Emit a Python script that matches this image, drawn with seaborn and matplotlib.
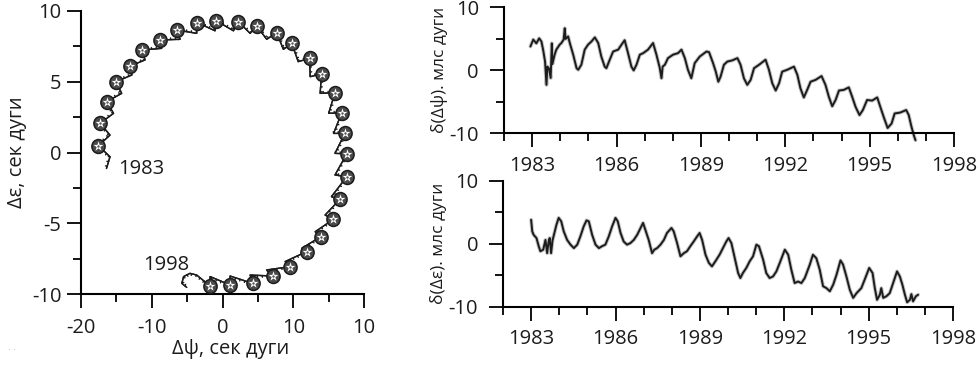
import matplotlib
matplotlib.use("Agg")
import matplotlib.pyplot as plt
import matplotlib.patheffects as pe
from matplotlib.markers import MarkerStyle
from matplotlib.transforms import Affine2D
from matplotlib.ticker import MultipleLocator
import pandas as pd
import seaborn as sns

# --- left panel: nutation path (Δψ, Δε), arc-seconds ---
# centres of the semi-annual loops, 1983 -> 1998
loop_x = [-17.55, -17.3, -16.37, -15.05, -13.07, -11.4, -8.83, -6.47, -3.55, -0.91,
          2.24, 4.83, 7.66, 9.8, 12.3, 14.0, 15.9, 16.85, 17.3, 17.56,
          17.56, 16.6, 15.67, 13.9, 11.9, 9.55, 7.1, 4.27, 1.07, -1.76]
loop_y = [0.48, 2.06, 3.59, 5.0, 6.11, 7.24, 7.95, 8.66, 9.18, 9.32,
          9.25, 8.94, 8.47, 7.71, 6.65, 5.55, 4.23, 2.8, 1.35, -0.1,
          -1.71, -3.31, -4.72, -5.95, -7.0, -8.07, -8.73, -9.25, -9.36, -9.43]
# inner track between consecutive loops
gap_x = [-15.9, -15.4, -14.25, -12.8, -10.95, -8.6, -6.0, -3.65, -1.05, 1.55,
         3.9, 6.25, 8.6, 10.7, 12.4, 13.8, 15.0, 15.7, 15.9, 15.9,
         15.4, 14.5, 13.1, 11.2, 8.85, 6.25, 3.9, 1.07, -1.76]
gap_y = [1.23, 2.77, 4.18, 5.48, 6.54, 7.36, 8.0, 8.42, 8.6, 8.6,
         8.42, 8.0, 7.29, 6.42, 5.36, 4.18, 2.77, 1.35, -0.06, -1.59,
         -3.12, -4.42, -5.6, -6.77, -7.71, -8.3, -8.66, -8.73, -8.77]
head_x = [-16.4, -15.9]
head_y = [-1.13, -0.3]
tail_x = [-3.65, -4.6, -5.5, -5.75, -5.06]
tail_y = [-8.66, -8.54, -8.77, -9.25, -9.53]

# --- right panels: residuals, mas ---
psi_t = [1982.94, 1983.04, 1983.15, 1983.25, 1983.33, 1983.39, 1983.46, 1983.51, 1983.54, 1983.60,
         1983.66, 1983.70, 1983.72, 1983.80, 1983.86, 1983.98, 1984.04, 1984.12, 1984.16, 1984.19,
         1984.28, 1984.34, 1984.46, 1984.58, 1984.64, 1984.75, 1984.87, 1984.99, 1985.11, 1985.23,
         1985.35, 1985.46, 1985.58, 1985.64, 1985.76, 1985.88, 1986.06, 1986.18, 1986.29, 1986.41,
         1986.53, 1986.61, 1986.71, 1986.83, 1986.95, 1987.12, 1987.30, 1987.42, 1987.54, 1987.60,
         1987.64, 1987.72, 1987.83, 1988.01, 1988.19, 1988.31, 1988.43, 1988.54, 1988.66, 1988.78,
         1988.96, 1989.20, 1989.29, 1989.43, 1989.53, 1989.62, 1989.70, 1989.82, 1989.94, 1990.12,
         1990.30, 1990.41, 1990.53, 1990.65, 1990.77, 1990.89, 1991.07, 1991.30, 1991.42, 1991.54,
         1991.66, 1991.78, 1991.89, 1992.07, 1992.31, 1992.43, 1992.54, 1992.66, 1992.78, 1992.90,
         1993.08, 1993.29, 1993.43, 1993.55, 1993.67, 1993.79, 1993.91, 1994.08, 1994.26, 1994.38,
         1994.50, 1994.64, 1994.76, 1994.91, 1995.09, 1995.27, 1995.38, 1995.50, 1995.64, 1995.78,
         1995.89, 1996.09, 1996.30, 1996.39, 1996.49, 1996.57, 1996.63]
psi_v = [3.8, 4.9, 4.3, 5.1, 4.6, 3.3, 1.4, -2.3, 0.6, 0.3,
         -1.2, 4.3, 1.0, 2.5, 3.3, 4.1, 4.35, 4.9, 6.7, 5.0,
         5.4, 4.35, 2.5, 0.35, 0.1, 0.9, 3.3, 4.1, 4.6, 5.25,
         4.35, 2.2, 0.6, 0.35, 1.7, 3.0, 3.3, 4.1, 4.8, 2.75,
         0.6, 0.0, 0.9, 2.5, 2.75, 3.3, 4.35, 2.5, 0.35, -1.25,
         0.6, 0.9, 1.95, 2.5, 2.75, 3.3, 1.95, 0.1, -1.25, 1.15,
         2.2, 3.0, 2.9, 1.2, -0.2, -1.8, -1.0, 0.9, 1.4, 1.6,
         1.95, 0.9, -1.25, -2.3, -1.5, 0.35, 0.9, 1.7, 0.1, -2.05,
         -3.2, -2.05, -0.2, 0.1, 0.6, -0.7, -2.85, -4.3, -3.1, -1.8,
         -1.5, -0.9, -2.3, -4.2, -5.7, -4.7, -3.2, -3.1, -2.7, -4.2,
         -5.8, -7.1, -6.3, -4.7, -4.8, -4.3, -5.8, -7.4, -9.15, -8.45,
         -6.85, -6.7, -6.3, -7.1, -9.0, -10.3, -11.1]

eps_t = [1983.00, 1983.04, 1983.09, 1983.19, 1983.27, 1983.33, 1983.43, 1983.51, 1983.57, 1983.62,
         1983.66, 1983.71, 1983.76, 1983.81, 1983.90, 1983.98, 1984.07, 1984.16, 1984.28, 1984.40,
         1984.52, 1984.64, 1984.75, 1984.87, 1984.97, 1985.05, 1985.17, 1985.29, 1985.41, 1985.52,
         1985.64, 1985.76, 1985.88, 1986.00, 1986.08, 1986.18, 1986.29, 1986.41, 1986.53, 1986.65,
         1986.77, 1986.89, 1986.98, 1987.06, 1987.18, 1987.30, 1987.38, 1987.48, 1987.60, 1987.72,
         1987.83, 1987.99, 1988.07, 1988.19, 1988.31, 1988.43, 1988.54, 1988.66, 1988.78, 1988.90,
         1988.99, 1989.08, 1989.20, 1989.32, 1989.43, 1989.55, 1989.70, 1989.82, 1989.94, 1990.02,
         1990.12, 1990.24, 1990.36, 1990.44, 1990.53, 1990.65, 1990.77, 1990.89, 1991.01, 1991.10,
         1991.25, 1991.36, 1991.48, 1991.60, 1991.72, 1991.84, 1992.02, 1992.14, 1992.25, 1992.37,
         1992.49, 1992.61, 1992.73, 1992.91, 1993.02, 1993.14, 1993.26, 1993.38, 1993.50, 1993.62,
         1993.74, 1993.86, 1994.00, 1994.09, 1994.21, 1994.33, 1994.45, 1994.57, 1994.74, 1994.86,
         1995.02, 1995.14, 1995.22, 1995.30, 1995.40, 1995.45, 1995.52, 1995.63, 1995.75, 1995.87,
         1996.01, 1996.11, 1996.20, 1996.29, 1996.37, 1996.47, 1996.52, 1996.58, 1996.68, 1996.76]
eps_v = [3.8, 1.95, 1.4, 0.9, -0.4, -1.2, -0.95, 0.6, -1.5, 0.3,
         0.9, -1.5, 0.5, 1.4, 3.0, 4.1, 3.55, 1.95, 0.6, -0.15,
         -0.7, -0.15, 1.15, 2.75, 3.7, 3.55, 1.4, -0.15, -0.7, -0.4,
         -0.15, 1.15, 2.75, 4.1, 3.55, 1.7, 0.35, -0.15, 0.1, 0.6,
         1.4, 2.5, 3.3, 2.2, 0.6, -1.5, -0.95, -0.7, -0.15, 0.6,
         1.7, 2.5, 1.95, 0.1, -2.0, -1.5, -1.2, -0.4, 0.35, 1.15,
         1.7, 0.6, -1.75, -3.05, -3.6, -2.8, -1.75, -0.7, 0.35, 0.9,
         0.1, -2.3, -4.65, -5.45, -4.65, -3.85, -2.8, -2.0, -0.15, -0.4,
         -2.55, -4.65, -5.45, -5.2, -4.4, -3.05, -0.95, -1.75, -4.1, -6.25,
         -6.0, -6.25, -5.45, -3.3, -1.75, -2.3, -4.1, -6.75, -7.05, -7.55,
         -6.5, -4.9, -2.65, -3.3, -5.2, -7.3, -8.6, -7.85, -7.05, -5.7,
         -3.85, -4.65, -7.05, -8.9, -8.1, -7.05, -8.6, -8.35, -7.85, -6.25,
         -4.4, -5.2, -6.5, -8.1, -9.3, -8.9, -8.0, -9.15, -8.35, -8.1]

year_ticks = [1983, 1986, 1989, 1992, 1995, 1998]
nut_xticks = [-20, -10, 0, 10, 20]
nut_xlabels = ["-20", "-10", "0", "10", "10"]

sns.set_theme(style="ticks")
plt.rcParams['font.family'] = ['Open Sans', 'DejaVu Sans']
plt.rcParams['axes.unicode_minus'] = False

INK = "#1c1c1c"
FS = 14.5

fig = plt.figure(figsize=(9.77, 3.7), dpi=100)
ax_nut = fig.add_axes([81 / 977, 1 - 294 / 370, 283 / 977, 283 / 370])
ax_psi = fig.add_axes([504 / 977, 1 - 133.3 / 370, 450 / 977, 125.8 / 370])
ax_eps = fig.add_axes([503 / 977, 1 - 306.7 / 370, 450 / 977, 126 / 370])


def style_axes(ax, xpad, ypad):
    sns.despine(ax=ax)
    for s in ("left", "bottom"):
        ax.spines[s].set_linewidth(1.5)
        ax.spines[s].set_color("black")
    ax.tick_params(which="major", direction="out", length=10, width=1.3,
                   color="black", labelsize=FS, labelcolor=INK)
    ax.tick_params(which="minor", direction="out", length=5.5, width=1.3, color="black")
    ax.tick_params(axis="x", which="major", pad=xpad)
    ax.tick_params(axis="y", which="major", pad=ypad)
    ax.set_facecolor("white")


# nutation path: head, then loop / gap alternately, then the 1998 curl
path_x, path_y = list(head_x), list(head_y)
for i in range(len(loop_x)):
    path_x.append(loop_x[i])
    path_y.append(loop_y[i])
    if i < len(gap_x):
        path_x.append(gap_x[i])
        path_y.append(gap_y[i])
path_x += tail_x
path_y += tail_y
df_path = pd.DataFrame({"dpsi": path_x, "deps": path_y})

sns.lineplot(data=df_path, x="dpsi", y="deps", sort=False, estimator=None,
             color=INK, lw=1.0, ax=ax_nut)
ax_nut.lines[-1].set_path_effects([pe.withTickedStroke(spacing=3.5, angle=100, length=0.35),
                                   pe.Normal()])

oval = MarkerStyle("o", transform=Affine2D().scale(0.95, 1.0))
df_loops = pd.DataFrame({"dpsi": loop_x, "deps": loop_y})
sns.scatterplot(data=df_loops, x="dpsi", y="deps", marker=oval, s=100,
                color="#4a4a4a", edgecolor=INK, linewidth=1.1, ax=ax_nut, zorder=3)
sns.scatterplot(data=df_loops, x="dpsi", y="deps", marker="*", s=55,
                color="white", linewidth=0, ax=ax_nut, zorder=4)
sns.scatterplot(data=df_loops, x="dpsi", y="deps", marker="o", s=3,
                color="#555555", linewidth=0, ax=ax_nut, zorder=5)

ax_nut.set_xlim(-20, 20)
ax_nut.set_ylim(-10, 10)
ax_nut.set_xticks(nut_xticks)
ax_nut.set_xticklabels(nut_xlabels)
ax_nut.set_yticks([-10, -5, 0, 5, 10])
ax_nut.xaxis.set_minor_locator(MultipleLocator(5))
ax_nut.yaxis.set_minor_locator(MultipleLocator(2.5))
style_axes(ax_nut, xpad=7, ypad=4)
ax_nut.set_xlabel("Δψ, сек дуги", fontsize=FS, color=INK)
ax_nut.set_ylabel("Δε, сек дуги", fontsize=FS, color=INK)
ax_nut.xaxis.set_label_coords(0.527, -0.16)
ax_nut.yaxis.set_label_coords(-0.19, 0.5)
ax_nut.text(-14.8, -1.2, "1983", fontsize=FS, color=INK, ha="left", va="center")
ax_nut.text(-11.2, -7.95, "1998", fontsize=FS, color=INK, ha="left", va="center")

# residual series
df_psi = pd.DataFrame({"year": psi_t, "val": psi_v})
df_eps = pd.DataFrame({"year": eps_t, "val": eps_v})
for ax, df, lab in ((ax_psi, df_psi, "δ(Δψ). млс дуги"), (ax_eps, df_eps, "δ(Δε). млс дуги")):
    sns.lineplot(data=df, x="year", y="val", sort=False, estimator=None,
                 color=INK, lw=1.4, ax=ax)
    line = ax.lines[-1]
    line.set_clip_on(False)
    line.set_path_effects([pe.Stroke(linewidth=2.8, foreground="#8c8c8c", alpha=0.5),
                           pe.Normal()])
    ax.set_xlim(1982, 1998)
    ax.set_ylim(-10, 10)
    ax.set_xticks(year_ticks)
    ax.set_yticks([-10, 0, 10])
    ax.xaxis.set_minor_locator(MultipleLocator(1))
    ax.yaxis.set_minor_locator(MultipleLocator(5))
    style_axes(ax, xpad=6, ypad=8)
    ax.set_xlabel("")
    ax.set_ylabel(lab, fontsize=12.5, color=INK)
    ax.yaxis.set_label_coords(-0.124, 0.5)

fig.text(0.008, 0.045, "· ·", color="#c8c8c8", fontsize=7)

fig.savefig("out.png", dpi=100, facecolor="white")
